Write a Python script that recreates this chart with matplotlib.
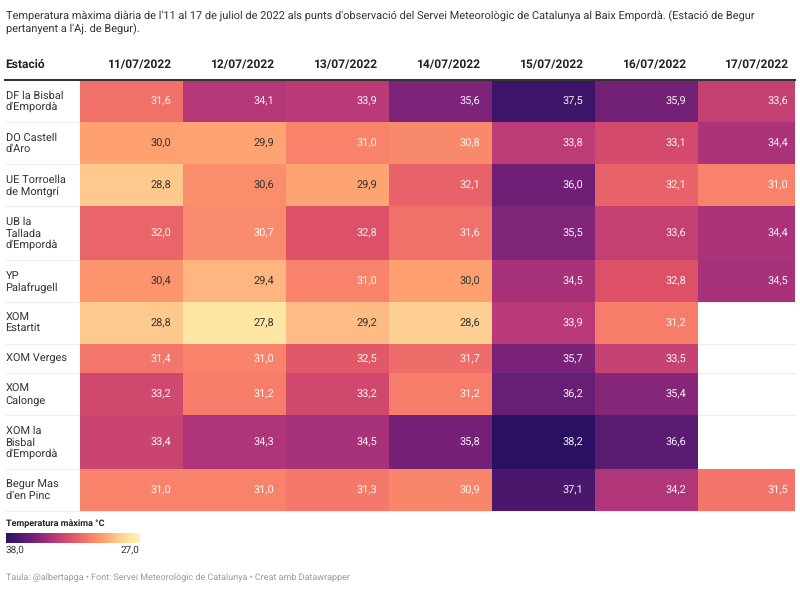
import numpy as np
import matplotlib
matplotlib.use("Agg")
import matplotlib.pyplot as plt
from matplotlib.colors import LinearSegmentedColormap

plt.rcParams['font.family'] = ['Roboto', 'DejaVu Sans']
plt.rcParams['text.hinting'] = 'none'
plt.rcParams['text.hinting_factor'] = 1

title = ("Temperatura màxima diària de l'11 al 17 de juliol de 2022 als punts d'observació del Servei Meteorològic de Catalunya al Baix Empordà. (Estació de Begur\n"
         "pertanyent a l'Aj. de Begur).")
dates = ["11/07/2022", "12/07/2022", "13/07/2022", "14/07/2022", "15/07/2022", "16/07/2022", "17/07/2022"]
stations = ["DF la Bisbal\nd'Empordà", "DO Castell\nd'Aro", "UE Torroella\nde Montgrí", "UB la\nTallada\nd'Empordà",
            "YP\nPalafrugell", "XOM\nEstartit", "XOM Verges", "XOM\nCalonge", "XOM la\nBisbal\nd'Empordà", "Begur Mas\nd'en Pinc"]
nan = np.nan
temps = np.array([
    [31.6, 34.1, 33.9, 35.6, 37.5, 35.9, 33.6],
    [30.0, 29.9, 31.0, 30.8, 33.8, 33.1, 34.4],
    [28.8, 30.6, 29.9, 32.1, 36.0, 32.1, 31.0],
    [32.0, 30.7, 32.8, 31.6, 35.5, 33.6, 34.4],
    [30.4, 29.4, 31.0, 30.0, 34.5, 32.8, 34.5],
    [28.8, 27.8, 29.2, 28.6, 33.9, 31.2, nan],
    [31.4, 31.0, 32.5, 31.7, 35.7, 33.5, nan],
    [33.2, 31.2, 33.2, 31.2, 36.2, 35.4, nan],
    [33.4, 34.3, 34.5, 35.8, 38.2, 36.6, nan],
    [31.0, 31.0, 31.3, 30.9, 37.1, 34.2, 31.5],
])
legend_title = "Temperatura màxima °C"
legend_hi, legend_lo = "38,0", "27,0"
source = "Taula: @albertapga • Font: Servei Meteorològic de Catalunya • Creat amb Datawrapper"

vmin, vmax = 27.0, 38.2
anchors = [(27.0, '#fff2b3'), (27.8, '#fee6a5'), (28.8, '#fec98d'), (30.0, '#fea070'), (31.0, '#f8826a'),
           (31.6, '#f0706a'), (32.8, '#dc5068'), (33.9, '#ba3a78'), (34.5, '#a83279'), (35.6, '#7d2379'),
           (36.6, '#5a1c72'), (37.5, '#3c1569'), (38.2, '#2a1060')]
cmap = LinearSegmentedColormap.from_list("temp", [((v - vmin) / (vmax - vmin), c) for v, c in anchors])

x_edges = np.array([80.3, 183.3, 286.3, 389.4, 492.4, 595.4, 698.4, 795.0])
y_edges = np.array([80, 122, 164, 206, 260, 302, 344, 373, 415, 469, 511.0])

fig = plt.figure(figsize=(8, 5.89), dpi=100)
ax = fig.add_axes([0, 0, 1, 1])
ax.set_xlim(0, 800)
ax.set_ylim(589, 0)
ax.axis('off')

ax.pcolormesh(x_edges, y_edges, np.ma.masked_invalid(temps), cmap=cmap, vmin=vmin, vmax=vmax, zorder=2)

dark = '#333333'
fs = 8.1
ax.text(5.5, 23, title, fontsize=7.88, color='#333333', va='center', ha='left', linespacing=1.23)
ax.text(5.5, 65, "Estació", fontsize=8.8, fontweight='bold', color='#222222', va='center')
right = lambda j: x_edges[j + 1] - 12 if j < 6 else 788.5
for j, d in enumerate(dates):
    ax.text(right(j), 65, d, fontsize=8.8, fontweight='bold', color='#222222', va='center', ha='right')
ax.plot([5, 795], [79.5, 79.5], color='#333333', lw=1.5, zorder=3)

for i, s in enumerate(stations):
    yc = (y_edges[i] + y_edges[i + 1]) / 2
    ax.plot([5, 795], [y_edges[i + 1]] * 2, color='#eeeeee', lw=0.8, zorder=1)
    ax.text(5.5, yc + 0.5, s, fontsize=fs, color='#333333', va='center', linespacing=1.12)
    for j in range(7):
        v = temps[i, j]
        if np.isnan(v):
            continue
        c = 'white' if v >= 30.7 else dark
        ax.text(right(j), yc + 0.5, f"{v:.1f}".replace('.', ','), fontsize=fs, color=c,
                va='center', ha='right', zorder=4, alpha=0.92 if c == 'white' else 1)

ax.text(5.5, 524, legend_title, fontsize=6.8, fontweight='bold', color='#222222', va='center')
grad = np.linspace(38.0, 27.0, 256)[None, :]
ax.imshow(grad, cmap=cmap, vmin=vmin, vmax=vmax, extent=(5.5, 139.5, 543, 533), aspect='auto', zorder=2)
ax.set_xlim(0, 800)
ax.set_ylim(589, 0)
ax.text(5.5, 549.5, legend_hi, fontsize=6.9, color='#333333', va='center')
ax.text(139.5, 549.5, legend_lo, fontsize=6.9, color='#333333', va='center', ha='right')
ax.text(5.5, 578, source, fontsize=6.22, color='#999999', va='center')

fig.savefig("out.png", dpi=100)
